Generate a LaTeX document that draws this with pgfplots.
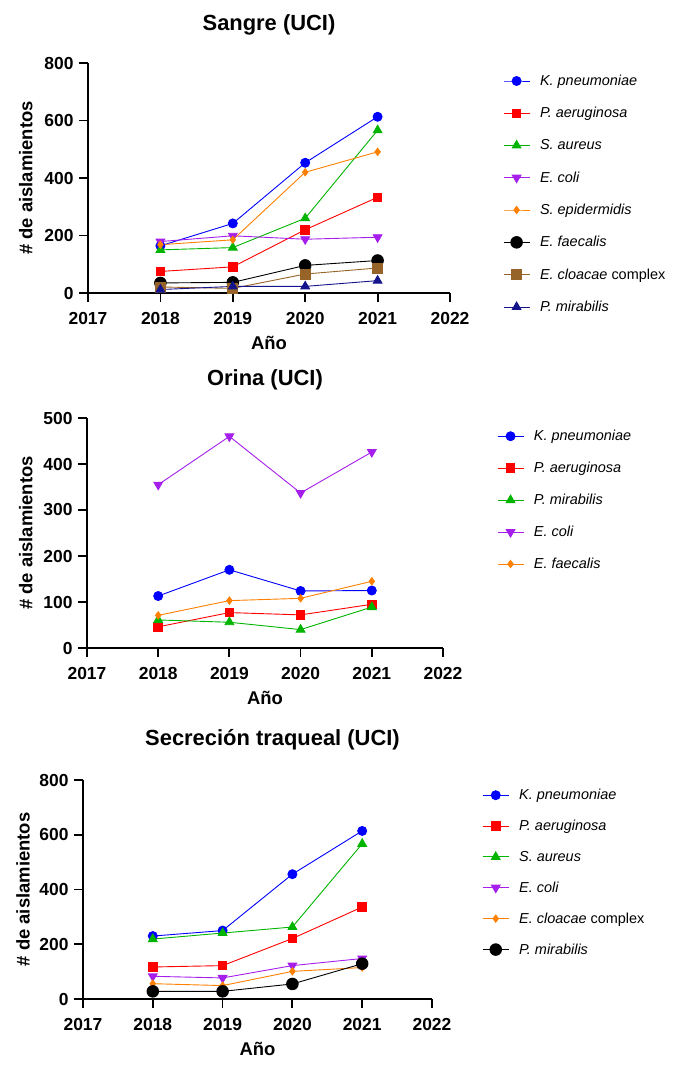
\documentclass[border=0pt]{standalone}
\usepackage{fontspec}
\setmainfont{Liberation Sans}
\usepackage{pgfplots}
\pgfplotsset{compat=1.18}

\definecolor{kblue}{RGB}{0,0,255}
\definecolor{pred}{RGB}{255,0,0}
\definecolor{sgreen}{RGB}{0,180,0}
\definecolor{ecoli}{RGB}{165,30,235}
\definecolor{sorange}{RGB}{255,128,0}
\definecolor{ebrown}{RGB}{150,100,40}
\definecolor{pnavy}{RGB}{20,20,140}

\pgfplotsset{
  panel/.style={
    scale only axis, clip=false,
    xmin=2017, xmax=2022, ymin=0,
    xtick={2017,2018,2019,2020,2021,2022},
    xticklabels={2017,2018,2019,2020,2021,2022},
    axis x line*=bottom, axis y line*=left,
    axis line style={-, line width=1.8bp, black},
    tick align=outside, major tick length=9bp,
    tick style={line width=1.8bp, black},
    /pgf/number format/assume math mode=true,
    tick label style={font=\bfseries\fontsize{17.5}{17.5}\selectfont},
    xticklabel style={yshift=-7bp},
    yticklabel style={xshift=-2bp},
    title style={font=\bfseries\fontsize{22}{22}\selectfont,
      at={(axis description cs:0.5,1)}, anchor=center, yshift=32bp},
    xlabel={Año}, ylabel={\# de aislamientos},
    label style={font=\bfseries\fontsize{18.5}{18.5}\selectfont},
    xlabel style={at={(axis description cs:0.5,0)}, anchor=center, yshift=-50bp},
    ylabel style={at={(axis description cs:-0.172,0.5)}, anchor=center},
    legend cell align=left,
    legend style={draw=none, fill=none, anchor=north west,
      font=\fontsize{14.5}{14.5}\selectfont},
    legend image code/.code={\draw[mark repeat=2,mark phase=2]
      plot coordinates {(0bp,0bp)(13bp,0bp)(26bp,0bp)};
      \path (34bp,0bp);},
    every axis plot/.append style={line width=0.9bp},
  },
  kpn/.style={color=kblue, mark=*, mark size=4.5bp},
  pae/.style={color=pred, mark=square*, mark size=4.3bp},
  sau/.style={color=sgreen, mark=triangle*, mark size=5bp},
  eco/.style={color=ecoli, mark=triangle*, mark size=5bp, mark options={rotate=180}},
  ora/.style={color=sorange, mark=diamond*, mark size=3.6bp},
  blk/.style={color=black, mark=*, mark size=5.8bp},
  brn/.style={color=ebrown, mark=square*, mark size=5bp},
  nav/.style={color=pnavy, mark=triangle*, mark size=5bp},
}

\begin{document}
\begin{tikzpicture}
\path[use as bounding box] (0,0) rectangle (677bp,-1069bp);

% Sangre
\begin{axis}[panel, at={(88bp,-293bp)}, anchor=south west,
  width=362bp, height=230bp, ymax=800, ytick={0,200,400,600,800},
  title={Sangre (UCI)},
  legend style={at={(axis description cs:1.138,0.966)}, row sep=16.4bp}]
\addplot[kpn] coordinates {(2018,164) (2019,242) (2020,453) (2021,613)};
\addplot[pae] coordinates {(2018,75) (2019,91) (2020,220) (2021,333)};
\addplot[sau] coordinates {(2018,150) (2019,158) (2020,260) (2021,566)};
\addplot[eco] coordinates {(2018,179) (2019,199) (2020,187) (2021,194)};
\addplot[ora] coordinates {(2018,168) (2019,185) (2020,420) (2021,491)};
\addplot[blk] coordinates {(2018,35) (2019,37) (2020,96) (2021,113)};
\addplot[brn] coordinates {(2018,21) (2019,16) (2020,66) (2021,87)};
\addplot[nav] coordinates {(2018,12) (2019,23) (2020,23) (2021,43)};
\legend{\textit{K. pneumoniae},\textit{P. aeruginosa},\textit{S. aureus},\textit{E. coli},
  \textit{S. epidermidis},\textit{E. faecalis},\textit{E. cloacae} complex,\textit{P. mirabilis}}
\end{axis}

% Orina
\begin{axis}[panel, at={(87bp,-648bp)}, anchor=south west,
  width=356bp, height=230bp, ymax=500, ytick={0,100,200,300,400,500},
  title={Orina (UCI)},
  legend style={at={(axis description cs:1.143,0.965)}, row sep=16bp}]
\addplot[kpn] coordinates {(2018,113) (2019,170) (2020,124) (2021,125)};
\addplot[pae] coordinates {(2018,46) (2019,77) (2020,72) (2021,95)};
\addplot[sau] coordinates {(2018,61) (2019,56) (2020,40) (2021,89)};
\addplot[eco] coordinates {(2018,355) (2019,460) (2020,337) (2021,426)};
\addplot[ora] coordinates {(2018,71) (2019,103) (2020,108) (2021,145)};
\legend{\textit{K. pneumoniae},\textit{P. aeruginosa},\textit{P. mirabilis},\textit{E. coli},\textit{E. faecalis}}
\end{axis}

% Secrecion traqueal
\begin{axis}[panel, at={(83bp,-999bp)}, anchor=south west,
  width=349bp, height=219bp, ymax=800, ytick={0,200,400,600,800},
  title={Secreción traqueal (UCI)},
  title style={xshift=15bp, yshift=2bp},
  legend style={at={(axis description cs:1.135,0.977)}, row sep=15bp}]
\addplot[kpn] coordinates {(2018,230) (2019,250) (2020,456) (2021,614)};
\addplot[pae] coordinates {(2018,117) (2019,122) (2020,221) (2021,336)};
\addplot[sau] coordinates {(2018,219) (2019,241) (2020,263) (2021,567)};
\addplot[eco] coordinates {(2018,83) (2019,77) (2020,122) (2021,148)};
\addplot[ora] coordinates {(2018,56) (2019,49) (2020,101) (2021,115)};
\addplot[blk] coordinates {(2018,28) (2019,28) (2020,55) (2021,129)};
\legend{\textit{K. pneumoniae},\textit{P. aeruginosa},\textit{S. aureus},\textit{E. coli},
  \textit{E. cloacae} complex,\textit{P. mirabilis}}
\end{axis}
\end{tikzpicture}
\end{document}
